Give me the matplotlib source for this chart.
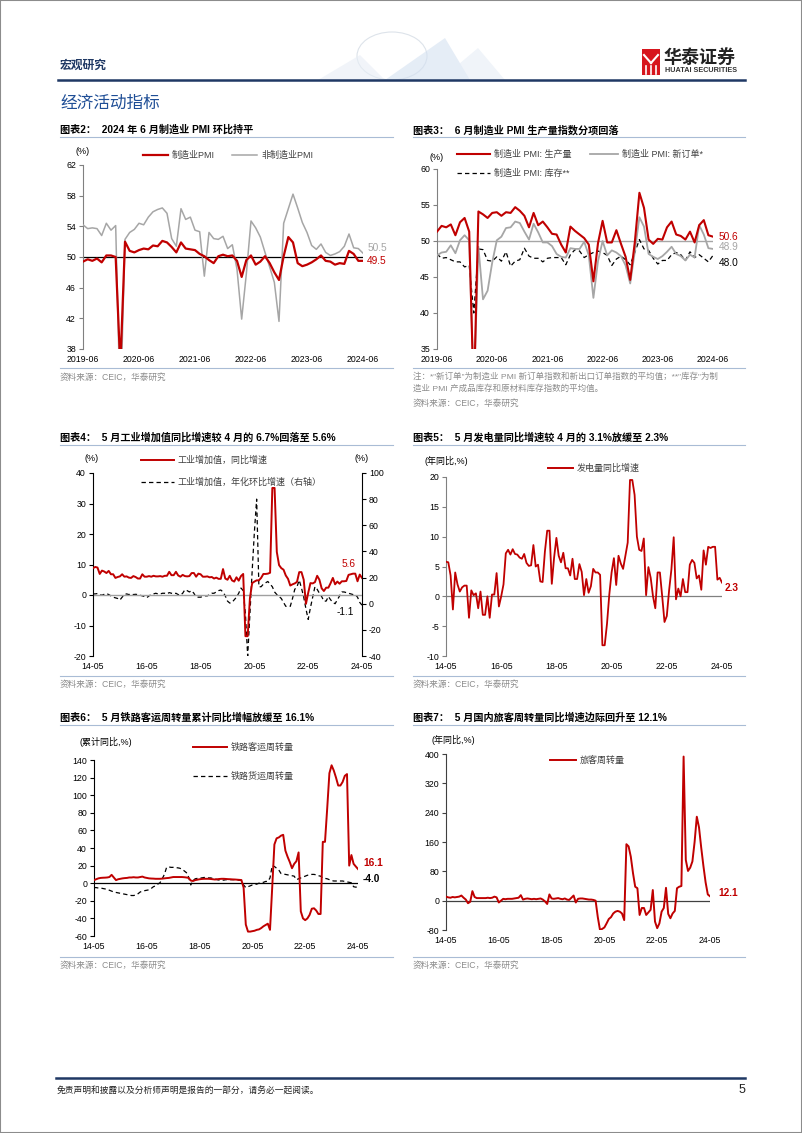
import numpy as np
import matplotlib
matplotlib.use('Agg')
import matplotlib.pyplot as plt
from matplotlib.lines import Line2D
from matplotlib.patches import Rectangle, Polygon, Ellipse

plt.rcParams['font.family'] = ['Liberation Sans', 'Noto Sans CJK SC']
plt.rcParams['axes.unicode_minus'] = False

RED = '#C00000'
GRAY = '#A6A6A6'
SRC_COLOR = '#8C8C8C'
RULE = '#A9BCD5'
TICK_FS = 6.3

# ---- data: PMI, monthly 2019-06 .. 2024-06 ----
pmi_ticks = ['2019-06', '2020-06', '2021-06', '2022-06', '2023-06', '2024-06']
pmi_mfg = [49.4, 49.7, 49.5, 49.8, 49.3, 50.2, 50.2,
           50.0, 35.7, 52.0, 50.8, 50.6, 50.9, 51.1, 51.0, 51.5, 51.4, 52.1, 51.9,
           51.3, 50.6, 51.9, 51.1, 51.0, 50.9, 50.4, 50.1, 49.6, 49.2, 50.1, 50.3,
           50.1, 50.2, 49.5, 47.4, 49.6, 50.2, 49.0, 49.4, 50.1, 49.2, 48.0, 47.0,
           50.1, 52.6, 51.9, 49.2, 48.8, 49.0, 49.3, 49.7, 50.2, 49.5, 49.4, 49.0,
           49.2, 49.1, 50.8, 50.4, 49.5, 49.5]
pmi_nonmfg = [54.2, 53.7, 53.8, 53.7, 52.8, 54.4, 53.5,
              54.1, 29.6, 52.3, 53.2, 53.6, 54.4, 54.2, 55.2, 55.9, 56.2, 56.4, 55.7,
              52.4, 51.4, 56.3, 54.9, 55.2, 53.5, 53.3, 47.5, 53.2, 52.4, 52.3, 52.7,
              51.1, 51.6, 48.4, 41.9, 47.8, 54.7, 53.8, 52.6, 50.6, 48.7, 46.7, 41.6,
              54.4, 56.3, 58.2, 56.4, 54.5, 53.2, 51.5, 51.0, 51.7, 50.6, 50.2, 50.4,
              50.7, 51.4, 53.0, 51.2, 51.1, 50.5]
pmi_prod = [51.3, 52.1, 51.9, 52.3, 50.8, 52.6, 53.2,
            51.3, 27.8, 54.1, 53.7, 53.2, 53.9, 54.0, 53.5, 54.0, 53.9, 54.7, 54.2,
            53.5, 51.9, 53.9, 52.2, 52.7, 51.9, 51.0, 50.9, 49.5, 48.4, 52.0, 51.4,
            50.9, 50.4, 49.5, 44.4, 49.7, 52.8, 49.8, 49.8, 51.5, 49.6, 47.8, 44.6,
            49.8, 56.7, 54.6, 50.2, 49.6, 50.3, 50.2, 51.9, 52.7, 50.9, 50.7, 50.2,
            51.3, 49.8, 52.2, 52.9, 50.8, 50.6]
pmi_orders = [48.0, 48.4, 48.5, 49.4, 48.3, 50.1, 50.8,
              50.1, 29.0, 49.2, 41.9, 43.1, 47.0, 50.1, 50.6, 51.8, 51.9, 52.7, 52.5,
              51.3, 50.2, 52.4, 51.2, 49.8, 49.8, 49.3, 48.2, 47.8, 47.7, 49.0, 48.9,
              48.9, 49.9, 48.0, 42.1, 47.2, 50.0, 48.0, 48.7, 48.4, 47.9, 46.6, 44.1,
              48.5, 53.3, 52.0, 48.2, 47.8, 47.5, 47.9, 48.5, 49.2, 48.2, 47.9, 47.3,
              48.1, 47.7, 52.2, 50.9, 49.0, 48.9]
pmi_inv = [48.2, 47.6, 47.7, 47.4, 47.1, 47.1, 46.4,
           46.6, 40.0, 48.9, 48.8, 47.3, 47.2, 47.8, 47.2, 48.5, 46.5, 47.2, 47.4,
           49.0, 47.9, 47.6, 47.6, 47.1, 47.6, 47.7, 47.7, 47.7, 46.7, 48.1, 48.8,
           48.6, 47.7, 48.1, 48.4, 48.6, 48.4, 48.0, 46.6, 47.5, 47.9, 47.4, 46.7,
           48.4, 50.2, 48.9, 48.7, 47.6, 46.8, 47.3, 47.3, 48.1, 48.4, 48.1, 47.3,
           48.5, 47.7, 48.1, 47.6, 47.1, 48.0]

# ---- data: monthly 2014-05 .. 2024-05 ----
m_ticks = ['14-05', '16-05', '18-05', '20-05', '22-05', '24-05']
ip_yoy = [8.8, 9.2, 9.0, 6.9, 8.0, 7.7, 7.2, 7.9,
          6.8, 6.8, 5.6, 5.9, 6.1, 6.8, 6.0, 6.1, 5.7, 5.6, 6.2, 5.9,
          5.4, 5.4, 6.8, 6.0, 6.0, 6.2, 6.0, 6.3, 6.1, 6.1, 6.2, 6.0,
          6.3, 6.3, 7.6, 6.5, 6.5, 7.6, 6.4, 6.0, 6.6, 6.2, 6.1, 6.2,
          7.2, 7.2, 6.0, 7.0, 6.8, 6.0, 6.0, 6.1, 5.8, 5.9, 5.4, 5.7,
          5.3, 5.3, 8.5, 5.4, 5.0, 6.3, 4.8, 4.4, 5.8, 4.7, 6.2, 6.9,
          -13.5, -13.5, -1.1, 3.9, 4.4, 4.8, 4.8, 5.6, 6.9, 6.9, 7.0, 7.3,
          35.1, 35.1, 14.1, 9.8, 8.8, 8.3, 6.4, 5.3, 3.1, 3.5, 3.8, 4.3,
          7.5, 7.5, 5.0, -2.9, 0.7, 3.9, 3.8, 4.2, 6.3, 5.0, 2.2, 1.3,
          2.4, 2.4, 3.9, 5.6, 3.5, 4.4, 3.7, 4.5, 4.5, 4.6, 6.6, 6.8,
          7.0, 7.0, 4.5, 6.7, 5.6]
ip_mom_ann = [7.5, 7.5, 7.8, 7.0, 6.5, 7.2, 7.8, 7.0,
              6.0, 5.0, 4.5, 4.0, 2.8, 5.0, 7.0, 7.5, 7.0, 7.5, 7.0, 7.2,
              7.0, 6.5, 6.0, 5.5, 4.6, 6.0, 7.0, 7.5, 8.0, 7.5, 7.5, 8.0,
              8.0, 7.5, 8.5, 8.0, 7.5, 8.0, 7.0, 6.5, 8.0, 10.7, 10.0, 9.0,
              10.0, 8.0, 5.0, 5.0, 5.0, 5.5, 6.0, 6.0, 7.0, 8.0, 8.0, 9.0,
              10.0, 10.5, 9.0, 6.0, 2.0, 0.5, 1.0, 3.0, 5.0, 8.0, 12.0, 10.0,
              -8.0, -40.0, -8.0, 25.0, 55.0, 80.0, 13.0, 13.0, 15.0, 16.0, 17.0, 15.0,
              13.0, 9.0, 7.0, 5.5, 4.0, 1.0, -2.0, -2.0, -2.0, 4.0, 11.0, 13.0,
              18.0, 12.0, 5.0, -4.0, -12.0, -3.0, 5.0, 13.0, 11.0, 8.0, 5.5, 2.0,
              2.0, 5.5, 3.0, 1.0, 0.0, 3.0, 6.0, 9.0, 9.0, 8.5, 8.0, 7.5,
              7.0, 7.0, 5.0, 1.0, -1.1]
power_yoy = [5.8, 5.7, 3.5, -2.2, 4.0, 2.0, 0.8, 1.5,
             1.8, 1.8, -3.6, 1.0, 0.2, 0.5, -2.0, 0.8, -3.1, -3.1, 0.0, -3.6,
             0.3, 0.3, 3.9, -1.7, 0.0, 2.0, 7.2, 7.8, 7.0, 7.9, 7.1, 7.0,
             6.5, 6.3, 7.1, 5.6, 5.1, 5.2, 8.6, 5.0, 5.3, 2.5, 2.4, 7.5,
             11.0, 11.0, 2.1, 6.5, 9.8, 6.8, 5.7, 7.3, 4.7, 4.7, 3.5, 6.3,
             2.9, 2.9, 5.4, 4.1, 0.2, 2.9, 0.6, 1.7, 4.6, 4.0, 4.0, 3.6,
             -8.2, -8.2, -4.6, 0.3, 4.0, 6.4, 1.9, 6.8, 5.5, 4.6, 6.8, 9.0,
             19.5, 19.5, 17.0, 10.0, 7.8, 7.6, 9.7, 0.2, 4.9, 3.1, 0.0, -2.0,
             4.0, 4.0, 0.0, -4.3, -3.3, 1.0, 4.5, 9.9, -0.5, 1.3, 0.0, 2.9,
             0.7, 0.7, 5.3, 6.1, 5.6, 3.0, 3.5, 1.1, 7.7, 5.3, 8.3, 8.1,
             8.3, 8.3, 2.8, 3.1, 2.3]
rail_pass = [3.5, 4.5, 5.5, 6.0, 6.2, 6.3, 6.5, 7.0,
             9.5, 6.5, 3.5, 4.5, 5.0, 5.5, 5.8, 6.0, 6.5, 6.5, 6.8, 6.5,
             6.5, 7.0, 7.5, 6.5, 6.0, 5.5, 5.3, 5.2, 5.0, 5.0, 5.0, 5.2,
             5.5, 5.8, 6.0, 6.5, 7.0, 7.0, 7.0, 7.0, 7.0, 6.8, 6.5, 6.0,
             3.0, 2.5, 3.5, 4.0, 4.5, 4.8, 5.0, 5.0, 5.0, 4.8, 4.5, 4.2,
             4.5, 4.8, 5.0, 5.0, 4.8, 4.6, 4.5, 4.3, 4.2, 4.0, 3.8, 3.6,
             -5.0, -47.0, -55.0, -55.0, -54.5, -54.0, -53.0, -52.5, -51.0, -49.0, -47.5, -46.0,
             -53.0, -5.0, 44.0, 51.0, 52.0, 54.0, 55.0, 37.0, 30.0, 24.0, 17.0, 22.0,
             25.0, 35.0, -32.0, -40.0, -42.0, -40.0, -36.0, -29.0, -28.5, -31.0, -35.0, -35.0,
             47.0, 47.0, 85.0, 125.0, 134.0, 128.0, 120.0, 111.0, 111.0, 115.0, 122.0, 124.0,
             20.0, 32.0, 22.0, 19.0, 16.1]
rail_freight = [-5.0, -5.0, -5.5, -5.5, -6.0, -6.5, -7.0, -8.0,
                -9.0, -10.0, -10.5, -11.0, -11.5, -12.0, -12.5, -13.0, -13.5, -14.0, -14.0, -13.5,
                -12.0, -10.0, -9.0, -8.5, -8.0, -7.5, -6.0, -4.0, -3.0, -1.0, 0.5, 5.0,
                10.0, 18.0, 18.5, 18.0, 18.0, 17.5, 17.5, 17.0, 16.0, 14.0, 12.0, 7.0,
                -2.0, 3.0, 5.0, 5.5, 6.0, 6.0, 6.5, 6.5, 6.0, 6.0, 5.5, 5.0,
                4.0, 3.5, 3.5, 3.5, 4.0, 4.0, 4.0, 4.0, 4.0, 3.5, 3.5, 3.0,
                -2.0, -5.0, -4.0, -3.0, -2.0, -1.5, -1.0, 0.0, 0.5, 1.0, 2.0, 2.0,
                6.0, 20.0, 19.0, 17.0, 15.0, 11.0, 10.5, 10.0, 9.5, 9.0, 8.5, 8.0,
                4.0, 5.0, 6.0, 7.0, 8.0, 9.0, 9.5, 10.0, 10.0, 9.5, 8.5, 8.0,
                6.0, 5.5, 5.0, 4.0, 3.0, 2.5, 2.5, 2.5, 2.5, 2.5, 2.0, 1.5,
                1.0, 0.5, -4.0, -4.5, -4.0]
pass_turnover = [11, 9, 8, 10, 9, 10, 11, 14,
                 8, 3, -7, -3, 26, 10, 7, 7, 7, 7, 7, 8,
                 7, 8, 11, 9, -5, 0, 5, 4, 5, 5, 5, 6,
                 7, 8, 15, 3, 5, 6, 5, 4, 5, 4, 5, 6,
                 3, -2, -9, 17, 6, 5, 6, 7, 5, 4, 6, 3,
                 2, 8, 14, -5, 5, 6, 6, 5, 4, 3, 3, 2,
                 0, -45, -80, -77, -73, -62, -50, -45, -35, -30, -28, -30,
                 -35, -53, 154, 148, 120, 75, 38, 34, -39, -20, -20, -39,
                 -32, -25, 29, -57, -75, -62, -30, -20, 35, -36, -48, -35,
                 -28, 34, 38, 40, 393, 111, 81, 90, 107, 160, 229, 200,
                 145, 95, 50, 17, 12.1]

W, H = 802, 1133
fig = plt.figure(figsize=(W / 100, H / 100), dpi=100)


def fx(x):
    return x / W


def fy(y):
    return 1 - y / H


def text(x, y, s, **kw):
    kw.setdefault('va', 'center')
    fig.text(fx(x), fy(y), s, **kw)


def hline(x0, x1, y, **kw):
    fig.add_artist(Line2D([fx(x0), fx(x1)], [fy(y), fy(y)], **kw))


def axes_at(l, t, r, b):
    return fig.add_axes([fx(l), fy(b), (r - l) / W, (b - t) / H])


def style(ax, color='black'):
    for s in ['top', 'right', 'bottom']:
        ax.spines[s].set_visible(False)
    ax.spines['left'].set_color(color)
    ax.spines['left'].set_linewidth(0.8)
    ax.tick_params(axis='y', length=3, width=0.8, color=color, labelsize=TICK_FS, pad=2)
    ax.tick_params(axis='x', length=0, labelsize=TICK_FS, pad=4)
    ax.patch.set_alpha(0)


def chart_title(x0, x1, y, s):
    text(x0, y, s, fontsize=7.3, fontweight='bold', color='black')
    hline(x0, x1, y + 7, color=RULE, lw=0.8)


def source(x0, x1, y, rule_y=None):
    if rule_y is not None:
        hline(x0, x1, rule_y, color=RULE, lw=0.8)
    text(x0, y, '资料来源：CEIC，华泰研究', fontsize=6.2, color=SRC_COLOR)


def legend_item(x0, x1, y, label, color, ls='-', lw=1.5):
    hline(x0, x1, y, color=color, lw=lw, ls=ls)
    text(x1 + 4, y, label, fontsize=6.5, color='#404040')


DASH = (0, (3.5, 2.5))

# ---- page frame / header ----
fig.add_artist(Rectangle((0, 0), 1, 1, transform=fig.transFigure, fill=False,
                         ec='#8C8C8C', lw=1.5))
# faint decorative header graphic
fig.add_artist(Ellipse((fx(392), fy(56)), 70 / W, 48 / H, transform=fig.transFigure,
                       fill=False, ec='#DDE3EA', lw=0.8))
for pts, c in [([(318, 80), (360, 55), (385, 80)], '#E8EEF6'),
               ([(385, 80), (445, 38), (470, 80)], '#D4E1F1'),
               ([(440, 80), (478, 48), (505, 80)], '#E6EDF6')]:
    fig.add_artist(Polygon([(fx(a), fy(b)) for a, b in pts], closed=True,
                           transform=fig.transFigure, fc=c, ec='none', alpha=0.6))
text(60, 66, '宏观研究', fontsize=8.5, color='#1F3864', fontweight='bold')
hline(58, 745, 80, color='#1F3864', lw=1.8)
fig.add_artist(Rectangle((fx(642), fy(75)), 18 / W, 26 / H, transform=fig.transFigure,
                         fc='#D7161E', ec='none'))
for a, b in [((644, 55), (651, 63)), ((658, 55), (651, 63))]:
    fig.add_artist(Line2D([fx(a[0]), fx(b[0])], [fy(a[1]), fy(b[1])], color='white', lw=1.5))
for xv in [646, 651, 656]:
    fig.add_artist(Line2D([fx(xv), fx(xv)], [fy(66), fy(74)], color='white', lw=1.2))
text(664, 58, '华泰证券', fontsize=13, fontweight='bold', color='#222222')
text(665, 71, 'HUATAI SECURITIES', fontsize=5.2, color='#333333', fontweight='bold')
text(60, 103, '经济活动指标', fontsize=12, color='#1F4E96')

# ---- chart 2: PMI ----
chart_title(60, 393, 130, '图表2：  2024 年 6 月制造业 PMI 环比持平')
ax = axes_at(83, 165, 363, 349)
x = np.arange(len(pmi_mfg))
ax.plot(x, pmi_nonmfg, color=GRAY, lw=1.1, zorder=3)
ax.axhline(50, color='black', lw=0.9, zorder=2)
ax.plot(x, pmi_mfg, color=RED, lw=1.6, zorder=4)
ax.set_xlim(0, 60)
ax.set_ylim(38, 62)
ax.set_yticks(range(38, 63, 4))
ax.set_xticks(range(0, 61, 12))
ax.set_xticklabels(pmi_ticks)
style(ax, '#808080')
ax.text(60.9, pmi_nonmfg[-1] + 0.7, f'{pmi_nonmfg[-1]:.1f}', color=GRAY, fontsize=7.3,
        va='center', clip_on=False)
ax.text(60.9, pmi_mfg[-1], f'{pmi_mfg[-1]:.1f}', color=RED, fontsize=7.3,
        va='center', clip_on=False)
text(83, 152, '(%)', fontsize=6.5, ha='center')
legend_item(143, 168, 155, '制造业PMI', RED, lw=1.6)
legend_item(232, 257, 155, '非制造业PMI', GRAY, lw=1.1)
source(60, 393, 377, rule_y=368)

# ---- chart 3: PMI sub-indices ----
chart_title(413, 745, 130, '图表3：  6 月制造业 PMI 生产量指数分项回落')
ax = axes_at(437, 169, 713, 349)
x = np.arange(len(pmi_prod))
ax.axhline(50, color=GRAY, lw=1.0, zorder=1)
ax.plot(x, pmi_inv, color='black', lw=0.9, ls=DASH, zorder=2)
ax.plot(x, pmi_orders, color=GRAY, lw=1.3, zorder=3)
ax.plot(x, pmi_prod, color=RED, lw=1.5, zorder=4)
ax.set_xlim(0, 60)
ax.set_ylim(35, 60)
ax.set_yticks(range(35, 61, 5))
ax.set_xticks(range(0, 61, 12))
ax.set_xticklabels(pmi_ticks)
style(ax, '#808080')
ax.text(61.3, pmi_prod[-1] - 0.1, f'{pmi_prod[-1]:.1f}', color=RED, fontsize=7.3,
        va='center', clip_on=False)
ax.text(61.3, pmi_orders[-1] + 0.25, f'{pmi_orders[-1]:.1f}', color=GRAY, fontsize=7.3,
        va='center', clip_on=False)
ax.text(61.3, pmi_inv[-1] - 1.05, f'{pmi_inv[-1]:.1f}', color='black', fontsize=7.3,
        va='center', clip_on=False)
text(437, 157, '(%)', fontsize=6.5, ha='center')
legend_item(457, 490, 154, '制造业 PMI: 生产量', RED, lw=1.5)
legend_item(590, 618, 154, '制造业 PMI: 新订单*', GRAY, lw=1.3)
legend_item(457, 490, 173, '制造业 PMI: 库存**', 'black', ls=DASH, lw=0.9)
hline(413, 745, 368, color=RULE, lw=0.8)
text(413, 377, '注：*"新订单"为制造业 PMI 新订单指数和新出口订单指数的平均值；**"库存"为制',
     fontsize=6.1, color=SRC_COLOR)
text(413, 389, '造业 PMI 产成品库存和原材料库存指数的平均值。', fontsize=6.1, color=SRC_COLOR)
source(413, 745, 403)

# ---- chart 4: industrial production ----
chart_title(60, 393, 438, '图表4：  5 月工业增加值同比增速较 4 月的 6.7%回落至 5.6%')
ax = axes_at(93, 473, 362, 656)
axr = ax.twinx()
x = np.arange(len(ip_yoy))
ax.axhline(0, color='#A0A0A0', lw=1.0, zorder=1)
axr.plot(x, ip_mom_ann, color='black', lw=0.9, ls=DASH)
ax.plot(x, ip_yoy, color=RED, lw=1.4, zorder=3)
ax.set_zorder(axr.get_zorder() + 1)
ax.set_xlim(0, 120)
ax.set_ylim(-20, 40)
axr.set_ylim(-40, 100)
ax.set_yticks(range(-20, 41, 10))
axr.set_yticks(range(-40, 101, 20))
ax.set_xticks(range(0, 121, 24))
ax.set_xticklabels(m_ticks)
style(ax, 'black')
for s in ['top', 'left', 'bottom']:
    axr.spines[s].set_visible(False)
axr.spines['right'].set_linewidth(0.8)
axr.tick_params(axis='y', length=3, width=0.8, labelsize=TICK_FS, pad=2)
ax.text(114, ip_yoy[-1] + 4.6, f'{ip_yoy[-1]:.1f}', color=RED, fontsize=7.3,
        ha='center', va='center', clip_on=False)
axr.text(112.5, ip_mom_ann[-1] - 5.2, f'{ip_mom_ann[-1]:.1f}', color='black', fontsize=7.3,
         ha='center', va='center', clip_on=False)
text(92, 458, '(%)', fontsize=6.5, ha='center')
text(362, 458, '(%)', fontsize=6.5, ha='center')
legend_item(141, 174, 460, '工业增加值，同比增速', RED, lw=1.4)
legend_item(141, 174, 482, '工业增加值，年化环比增速（右轴）', 'black', ls=DASH, lw=0.9)
source(60, 393, 684, rule_y=676)

# ---- chart 5: power generation ----
chart_title(413, 745, 438, '图表5：  5 月发电量同比增速较 4 月的 3.1%放缓至 2.3%')
ax = axes_at(446, 477, 722, 656)
x = np.arange(len(power_yoy))
ax.axhline(0, color='#808080', lw=0.9, zorder=1)
ax.plot(x, power_yoy, color=RED, lw=1.3, zorder=3)
ax.set_xlim(0, 120)
ax.set_ylim(-10, 20)
ax.set_yticks(range(-10, 21, 5))
ax.set_xticks(range(0, 121, 24))
ax.set_xticklabels(m_ticks)
style(ax, '#808080')
ax.text(121, power_yoy[-1] - 0.9, f'{power_yoy[-1]:.1f}', color=RED, fontsize=7.3,
        fontweight='bold', va='center', clip_on=False)
text(446, 461, '(年同比,%)', fontsize=6.5, ha='center')
legend_item(548, 573, 468, '发电量同比增速', RED, lw=1.4)
source(413, 745, 684, rule_y=676)

# ---- chart 6: railway turnover ----
chart_title(60, 393, 718, '图表6：  5 月铁路客运周转量累计同比增幅放缓至 16.1%')
ax = axes_at(94, 760, 358, 936)
x = np.arange(len(rail_pass))
ax.axhline(0, color='black', lw=0.9, zorder=1)
ax.plot(x, rail_freight, color='black', lw=0.9, ls=DASH, zorder=2)
ax.plot(x, rail_pass, color=RED, lw=1.4, zorder=3)
ax.set_xlim(0, 120)
ax.set_ylim(-60, 140)
ax.set_yticks(range(-60, 141, 20))
ax.set_xticks(range(0, 121, 24))
ax.set_xticklabels(m_ticks)
style(ax, 'black')
ax.text(122.3, rail_pass[-1] + 7, f'{rail_pass[-1]:.1f}', color=RED, fontsize=7.3,
        fontweight='bold', va='center', clip_on=False)
ax.text(122.3, rail_freight[-1] + 8.8, f'{rail_freight[-1]:.1f}', color='black', fontsize=7.3,
        fontweight='bold', va='center', clip_on=False)
text(106, 742, '(累计同比,%)', fontsize=6.5, ha='center')
legend_item(193, 227, 747, '铁路客运周转量', RED, lw=1.4)
legend_item(193, 227, 776, '铁路货运周转量', 'black', ls=DASH, lw=0.9)
source(60, 393, 965, rule_y=957)

# ---- chart 7: passenger turnover ----
chart_title(413, 745, 718, '图表7：  5 月国内旅客周转量同比增速边际回升至 12.1%')
ax = axes_at(446, 754, 710, 930)
x = np.arange(len(pass_turnover))
ax.axhline(0, color='#404040', lw=0.9, zorder=1)
ax.plot(x, pass_turnover, color=RED, lw=1.4, zorder=3)
ax.set_xlim(0, 120)
ax.set_ylim(-80, 400)
ax.set_yticks(range(-80, 401, 80))
ax.set_xticks(range(0, 121, 24))
ax.set_xticklabels(m_ticks)
style(ax, '#404040')
ax.text(123.6, pass_turnover[-1] + 9, f'{pass_turnover[-1]:.1f}', color=RED, fontsize=7.3,
        fontweight='bold', va='center', clip_on=False)
text(453, 740, '(年同比,%)', fontsize=6.5, ha='center')
legend_item(550, 576, 760, '旅客周转量', RED, lw=1.4)
source(413, 745, 965, rule_y=957)

# ---- footer ----
hline(56, 745, 1078, color='#1F3864', lw=1.8)
text(57, 1090, '免责声明和披露以及分析师声明是报告的一部分，请务必一起阅读。',
     fontsize=6.3, color='#222222', style='italic')
text(745, 1090, '5', fontsize=9, ha='right', color='#222222')

fig.savefig('out.png', dpi=100)
